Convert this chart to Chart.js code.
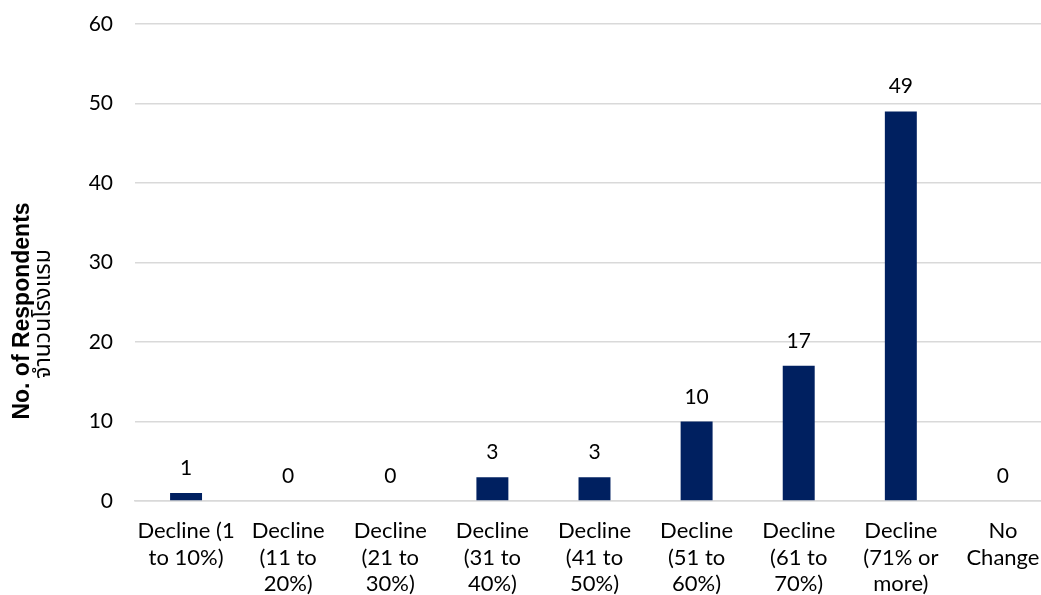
<!DOCTYPE html>
<html>
<head>
<meta charset="utf-8">
<script src="https://cdn.jsdelivr.net/npm/chart.js@4.4.0/dist/chart.umd.min.js"></script>
<style>
html,body{margin:0;padding:0;overflow:hidden;background:#fff;width:1041px;height:595px;}
canvas{display:block;}
</style>
</head>
<body>
<canvas id="c" width="1054" height="595"></canvas>
<script>
const categories = [
  ["Decline (1", "to 10%)"],
  ["Decline", "(11 to", "20%)"],
  ["Decline", "(21 to", "30%)"],
  ["Decline", "(31 to", "40%)"],
  ["Decline", "(41 to", "50%)"],
  ["Decline", "(51 to", "60%)"],
  ["Decline", "(61 to", "70%)"],
  ["Decline", "(71% or", "more)"],
  ["No", "Change"]
];
const respondents = [1, 0, 0, 3, 3, 10, 17, 49, 0];
const yTitle = "No. of Respondents";
const yTitleThai = "จำนวนโรงแรม";
const yMin = 0, yMax = 60, yStep = 10;

const FONT = "Lato, 'Open Sans', sans-serif";

const labelPlugin = {
  id: 'valueLabels',
  afterDatasetsDraw(chart) {
    const ctx = chart.ctx;
    const meta = chart.getDatasetMeta(0);
    ctx.save();
    ctx.font = "21px " + FONT;
    ctx.fillStyle = "#000";
    ctx.textAlign = "center";
    ctx.textBaseline = "alphabetic";
    meta.data.forEach((bar, i) => {
      ctx.fillText(String(chart.data.datasets[0].data[i]), bar.x, bar.y - 18);
    });
    ctx.restore();
  },
  afterDraw(chart) {
    const ctx = chart.ctx;
    ctx.save();
    ctx.textAlign = "center";
    ctx.textBaseline = "middle";
    ctx.fillStyle = "#000";
    ctx.save();
    ctx.translate(23, 311);
    ctx.rotate(-Math.PI / 2);
    ctx.font = "bold 23px 'Liberation Sans', Arial, sans-serif";
    ctx.fillText(yTitle, 0, 0);
    ctx.restore();
    ctx.translate(45, 314);
    ctx.rotate(-Math.PI / 2);
    ctx.font = "23px 'Noto Sans Thai', 'Noto Sans', sans-serif";
    ctx.fillText(yTitleThai, 0, 0);
    ctx.restore();
  }
};

new Chart(document.getElementById('c'), {
  type: 'bar',
  data: {
    labels: categories,
    datasets: [{
      data: respondents,
      backgroundColor: '#002060',
      borderWidth: 0,
      categoryPercentage: 1.0,
      barPercentage: 0.313
    }]
  },
  options: {
    responsive: false,
    animation: false,
    layout: { padding: { top: 24, right: 0, left: 0, bottom: 0 } },
    plugins: { legend: { display: false }, tooltip: { enabled: false } },
    scales: {
      x: {
        grid: { display: false, drawTicks: false },
        border: { display: true, color: '#d9d9d9', width: 1.5 },
        ticks: {
          color: '#000',
          font: { family: FONT, size: 22, lineHeight: 1.2 },
          maxRotation: 0, minRotation: 0, autoSkip: false,
          padding: 17
        },
        afterFit(scale) { scale.height = 94; scale.paddingLeft = 0; scale.paddingRight = 0; }
      },
      y: {
        min: yMin, max: yMax,
        grid: { color: '#d9d9d9', lineWidth: 1.5, drawTicks: false },
        border: { display: false },
        ticks: {
          stepSize: yStep,
          color: '#000',
          font: { family: FONT, size: 21 },
          padding: 22
        },
        afterFit(scale) { scale.width = 135; scale.paddingTop = 0; scale.paddingBottom = 0; }
      }
    }
  },
  plugins: [labelPlugin]
});
</script>
</body>
</html>
